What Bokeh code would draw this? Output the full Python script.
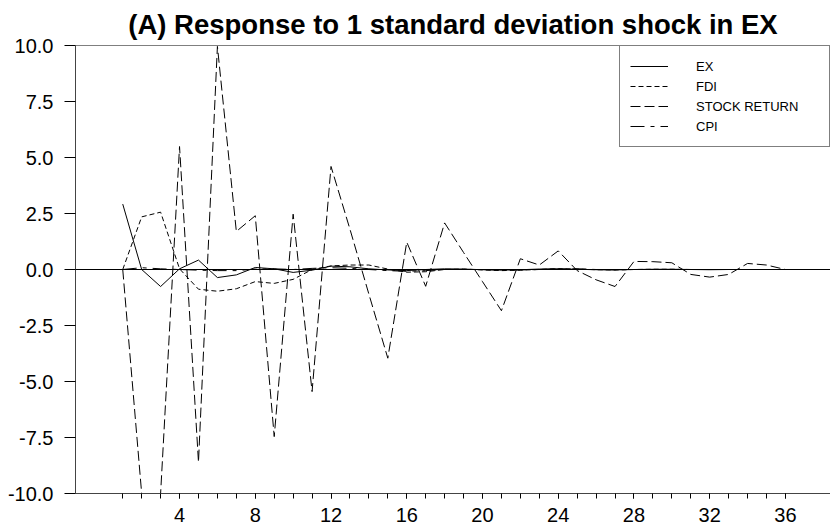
from bokeh.plotting import figure
from bokeh.models import FixedTicker, PrintfTickFormatter, Span, Range1d
from bokeh.embed import file_html
from bokeh.resources import INLINE

periods = list(range(1, 37))
ex = [2.92, 0.00, -0.76, 0.03, 0.42, -0.36, -0.24, 0.09, 0.03, -0.13, -0.03, 0.15,
      0.12, 0.03, -0.02, -0.05, 0.00, 0.03, 0.02, -0.01, -0.03, -0.01, 0.02, 0.03,
      0.01, -0.01, -0.02, 0.00, 0.01, 0.01, 0.00, -0.01, 0.00, 0.00, 0.00, 0.00]
fdi = [0.00, 2.35, 2.56, 0.03, -0.88, -0.97, -0.86, -0.54, -0.62, -0.44, 0.00, 0.16,
       0.20, 0.20, 0.02, -0.12, -0.10, 0.00, 0.02, -0.02, -0.05, -0.03, 0.00, 0.04,
       0.02, -0.01, -0.02, 0.00, 0.01, 0.01, 0.00, 0.00, 0.00, 0.00, 0.00, 0.00]
stock_return = [0.00, -10.00, -10.00, 5.49, -8.60, 9.96, 1.70, 2.40, -7.46, 2.47, -5.45, 4.60,
                1.80, -1.10, -3.96, 1.22, -0.75, 2.08, 0.76, -0.54, -1.84, 0.48, 0.20, 0.83,
                -0.05, -0.46, -0.76, 0.36, 0.35, 0.30, -0.22, -0.34, -0.22, 0.27, 0.20, 0.00]
cpi = [0.00, 0.08, 0.03, 0.00, -0.03, -0.05, -0.05, 0.02, 0.03, 0.00, 0.05, 0.08,
       0.05, 0.00, -0.05, -0.08, -0.05, 0.00, 0.00, 0.00, -0.02, -0.02, 0.00, 0.02,
       0.03, 0.00, -0.01, 0.00, 0.00, 0.00, 0.00, 0.00, 0.00, 0.00, 0.00, 0.00]
y_ticks = [-10.0, -7.5, -5.0, -2.5, 0.0, 2.5, 5.0, 7.5, 10.0]
x_major_ticks = [4, 8, 12, 16, 20, 24, 28, 32, 36]

FONT = "Liberation Sans"

p = figure(width=830, height=524, x_range=Range1d(-1.495, 38.38), y_range=Range1d(-10, 10),
           output_backend="svg", toolbar_location=None,
           min_border_left=75, min_border_right=0, min_border_bottom=30, min_border_top=0)
p.title.text = "(A) Response to 1 standard deviation shock in EX"
p.title.align = "center"
p.title.text_font = FONT
p.title.text_font_size = "27.5px"
p.title.text_font_style = "bold"
p.title.text_color = "black"
p.title.standoff = 12
p.outline_line_color = None
p.grid.visible = False

# axes
p.yaxis.ticker = FixedTicker(ticks=y_ticks)
p.yaxis.formatter = PrintfTickFormatter(format="%.1f")
p.yaxis.major_tick_out = 11
p.yaxis.major_tick_in = 0
p.yaxis.minor_tick_line_color = None
p.yaxis.major_label_standoff = 11
p.yaxis.axis_line_color = "#444444"

p.xaxis.ticker = FixedTicker(ticks=x_major_ticks, minor_ticks=periods)
p.xaxis.major_tick_out = 5
p.xaxis.major_tick_in = 0
p.xaxis.minor_tick_out = 5
p.xaxis.minor_tick_in = 0
p.xaxis.major_label_standoff = 9
p.xaxis.axis_line_color = "#444444"
p.xaxis.minor_tick_line_color = "black"

for ax in (p.xaxis, p.yaxis):
    ax.major_label_text_font = FONT
    ax.major_label_text_font_size = "20px"
    ax.major_label_text_color = "black"
    ax.major_tick_line_color = "black"

p.add_layout(Span(location=0, dimension="width", line_color="black", line_width=1))
p.add_layout(Span(location=10, dimension="width", line_color="black", line_width=1))

p.line(periods, ex, line_color="black", line_width=1, legend_label="EX")
p.line(periods, fdi, line_color="black", line_width=1, line_dash="5 3", legend_label="FDI")
p.line(periods, stock_return, line_color="black", line_width=1, line_dash="10 4",
       legend_label="STOCK RETURN")
p.line(periods, cpi, line_color="black", line_width=1, line_dash="14 6 4 6", legend_label="CPI")

lg = p.legend[0]
lg.location = "top_right"
lg.margin = 0
lg.padding = 10
lg.spacing = 0
lg.label_height = 20
lg.glyph_height = 20
lg.glyph_width = 38
lg.label_standoff = 28
lg.label_width = 123
lg.border_line_color = "black"
lg.border_line_width = 1
lg.background_fill_color = "white"
lg.background_fill_alpha = 1
lg.label_text_font = FONT
lg.label_text_font_size = "13px"
lg.label_text_color = "black"

open("out.html", "w").write(file_html(p, INLINE))
